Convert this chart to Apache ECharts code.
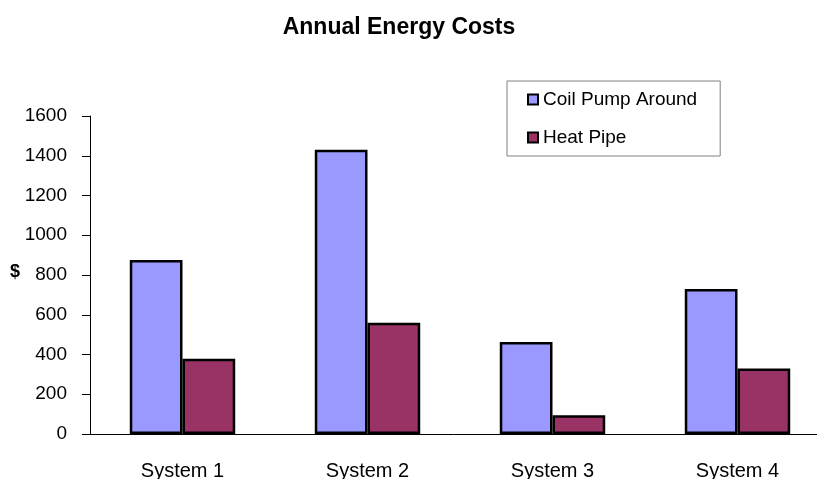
<!DOCTYPE html>
<html>
<head>
<meta charset="utf-8">
<script src="https://cdn.jsdelivr.net/npm/echarts@6/dist/echarts.min.js"></script>
<style>
html,body{margin:0;padding:0;background:#fff;}
#chart{width:817px;height:479px;}
</style>
</head>
<body>
<div id="chart"></div>
<script>
var categories = ['System 1', 'System 2', 'System 3', 'System 4'];
var coilPump = [875, 1430, 463, 730];
var heatPipe = [378, 560, 94, 330];
var yTicks = { min: 0, max: 1600, step: 200 };

var chart = echarts.init(document.getElementById('chart'));
var font = 'Liberation Sans, Arial, sans-serif';
var option = {
	backgroundColor: '#fff',
	animation: false,
	title: {
		text: 'Annual Energy Costs',
		left: 394,
		textAlign: 'center',
		top: 11,
		textStyle: { fontFamily: font, fontSize: 23, fontWeight: 'bold', color: '#000' }
	},
	legend: {
		orient: 'vertical',
		left: 507,
		top: 81,
		padding: [9, 23, 9, 20],
		itemGap: 19,
		itemWidth: 10,
		itemHeight: 10,
		borderColor: '#808080',
		borderWidth: 1,
		icon: 'rect',
		itemStyle: { borderColor: '#000', borderWidth: 2 },
		textStyle: { fontFamily: font, fontSize: 19, color: '#000', lineHeight: 19 },
		data: ['Coil Pump Around', 'Heat Pipe']
	},
	grid: { left: 90, top: 116, width: 740, height: 318, containLabel: false, outerBoundsMode: 'none' },
	graphic: [{
		type: 'text',
		left: 10,
		top: 263,
		style: { text: '$', font: 'bold 18px Liberation Sans, Arial, sans-serif', fill: '#000' }
	}],
	xAxis: {
		type: 'category',
		data: categories,
		axisLine: { lineStyle: { color: '#000', width: 1 } },
		axisTick: { show: false },
		axisLabel: { color: '#000', fontFamily: font, fontSize: 20, margin: 27 }
	},
	yAxis: {
		type: 'value',
		min: yTicks.min,
		max: yTicks.max,
		interval: yTicks.step,
		splitLine: { show: false },
		axisLine: { show: true, lineStyle: { color: '#000', width: 1 } },
		axisTick: { show: true, length: 8, lineStyle: { color: '#000' } },
		axisLabel: {
			color: '#000', fontFamily: font, fontSize: 19, margin: 23,
			formatter: function (v) { return String(v); }
		}
	},
	series: [{
		name: 'Coil Pump Around',
		type: 'bar',
		data: coilPump,
		barGap: '0%',
		barCategoryGap: '43%',
		itemStyle: { color: '#9999FF', borderColor: '#000', borderWidth: 2.5 }
	}, {
		name: 'Heat Pipe',
		type: 'bar',
		data: heatPipe,
		itemStyle: { color: '#993366', borderColor: '#000', borderWidth: 2.5 }
	}]
};
chart.setOption(option);
</script>
</body>
</html>
